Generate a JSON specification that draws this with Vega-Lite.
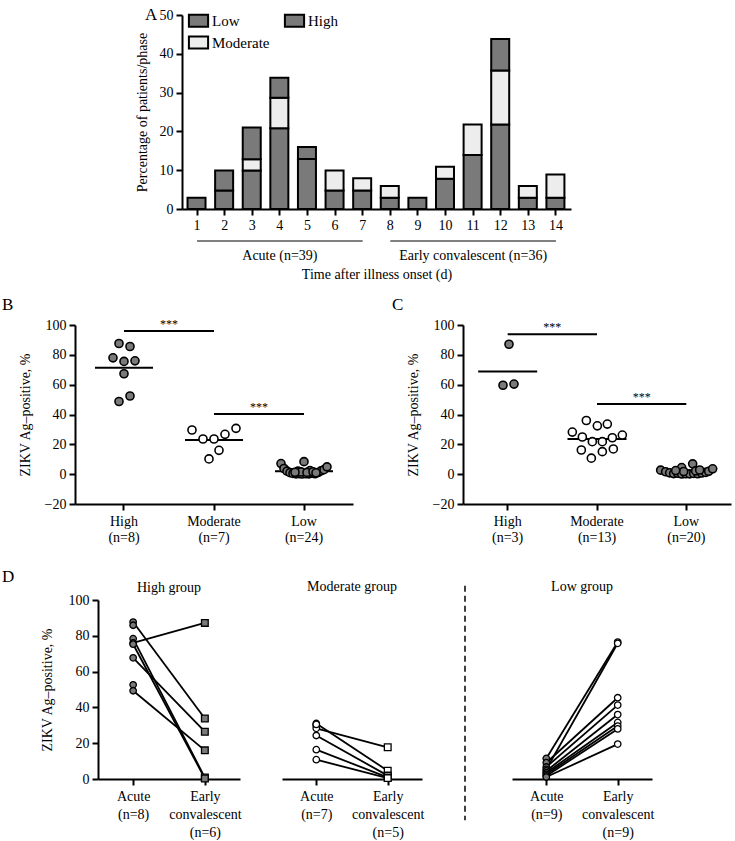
{
  "$schema": "https://vega.github.io/schema/vega-lite/v6.json",
  "background": "white",
  "padding": {"left": 2, "top": 6, "right": 2, "bottom": 2},
  "config": {
    "font": "Liberation Serif",
    "view": {"stroke": null},
    "axis": {"domainColor": "black", "domainWidth": 2, "tickColor": "black", "tickWidth": 2, "tickSize": 6, "labelColor": "black", "labelFontSize": 14, "titleFontSize": 14, "titleColor": "black", "titleFontWeight": "normal", "labelFont": "Liberation Serif", "titleFont": "Liberation Serif", "grid": false, "labelPadding": 3, "labelOverlap": false},
    "title": {"font": "Liberation Serif", "fontSize": 14, "fontWeight": "normal", "color": "black"},
    "text": {"font": "Liberation Serif"}
  },
  "datasets": {
    "days": [
      {"day": 1, "level": "Low", "ord": 1, "pct": 2.9},
      {"day": 2, "level": "Low", "ord": 1, "pct": 4.8}, {"day": 2, "level": "High", "ord": 3, "pct": 5.1},
      {"day": 3, "level": "Low", "ord": 1, "pct": 9.9}, {"day": 3, "level": "Moderate", "ord": 2, "pct": 2.9}, {"day": 3, "level": "High", "ord": 3, "pct": 8.2},
      {"day": 4, "level": "Low", "ord": 1, "pct": 20.8}, {"day": 4, "level": "Moderate", "ord": 2, "pct": 7.9}, {"day": 4, "level": "High", "ord": 3, "pct": 5.1},
      {"day": 5, "level": "Low", "ord": 1, "pct": 12.9}, {"day": 5, "level": "High", "ord": 3, "pct": 3.1},
      {"day": 6, "level": "Low", "ord": 1, "pct": 4.8}, {"day": 6, "level": "Moderate", "ord": 2, "pct": 5.1},
      {"day": 7, "level": "Low", "ord": 1, "pct": 4.8}, {"day": 7, "level": "Moderate", "ord": 2, "pct": 3.1},
      {"day": 8, "level": "Low", "ord": 1, "pct": 2.9}, {"day": 8, "level": "Moderate", "ord": 2, "pct": 3.0},
      {"day": 9, "level": "Low", "ord": 1, "pct": 2.9},
      {"day": 10, "level": "Low", "ord": 1, "pct": 7.8}, {"day": 10, "level": "Moderate", "ord": 2, "pct": 3.1},
      {"day": 11, "level": "Low", "ord": 1, "pct": 13.9}, {"day": 11, "level": "Moderate", "ord": 2, "pct": 7.9},
      {"day": 12, "level": "Low", "ord": 1, "pct": 21.8}, {"day": 12, "level": "Moderate", "ord": 2, "pct": 13.9}, {"day": 12, "level": "High", "ord": 3, "pct": 8.1},
      {"day": 13, "level": "Low", "ord": 1, "pct": 2.9}, {"day": 13, "level": "Moderate", "ord": 2, "pct": 3.0},
      {"day": 14, "level": "Low", "ord": 1, "pct": 2.9}, {"day": 14, "level": "Moderate", "ord": 2, "pct": 6.0}
    ],
    "phases": [
      {"phase": "Acute (n=39)", "from": 1, "to": 7},
      {"phase": "Early convalescent (n=36)", "from": 8, "to": 14}
    ],
    "bPts": [
      {"grp": "High", "jit": -5, "val": 87.6}, {"grp": "High", "jit": 6, "val": 85.6}, {"grp": "High", "jit": -11, "val": 78}, {"grp": "High", "jit": 0, "val": 75.6},
      {"grp": "High", "jit": 11, "val": 76}, {"grp": "High", "jit": 0, "val": 67.3}, {"grp": "High", "jit": 6, "val": 52.4}, {"grp": "High", "jit": -5, "val": 48.7},
      {"grp": "Moderate", "jit": -22, "val": 29.6}, {"grp": "Moderate", "jit": -11, "val": 23.6}, {"grp": "Moderate", "jit": 0, "val": 23.6}, {"grp": "Moderate", "jit": 11, "val": 26.7},
      {"grp": "Moderate", "jit": 22, "val": 30.7}, {"grp": "Moderate", "jit": -5, "val": 10.2}, {"grp": "Moderate", "jit": 5, "val": 16},
      {"grp": "Low", "jit": -23, "val": 7.1}, {"grp": "Low", "jit": -20, "val": 3.8}, {"grp": "Low", "jit": -17, "val": 2.0}, {"grp": "Low", "jit": -14, "val": 1.0},
      {"grp": "Low", "jit": -11, "val": 0.5}, {"grp": "Low", "jit": -8, "val": 0.2}, {"grp": "Low", "jit": -5, "val": 0.4}, {"grp": "Low", "jit": -2, "val": 0.1},
      {"grp": "Low", "jit": 2, "val": 0.3}, {"grp": "Low", "jit": 5, "val": 0.2}, {"grp": "Low", "jit": 8, "val": 0.6}, {"grp": "Low", "jit": 11, "val": 0.3},
      {"grp": "Low", "jit": 14, "val": 1.1}, {"grp": "Low", "jit": 17, "val": 2.2}, {"grp": "Low", "jit": 20, "val": 3.0}, {"grp": "Low", "jit": 23, "val": 4.9},
      {"grp": "Low", "jit": 0, "val": 8.4}, {"grp": "Low", "jit": -6, "val": 2.0}, {"grp": "Low", "jit": 6, "val": 2.4}, {"grp": "Low", "jit": -3, "val": 1.5},
      {"grp": "Low", "jit": 3, "val": 1.2}, {"grp": "Low", "jit": -9, "val": 1.3}, {"grp": "Low", "jit": 9, "val": 1.6}, {"grp": "Low", "jit": 12, "val": 0.9}
    ],
    "bMed": [{"grp": "High", "med": 71.3}, {"grp": "Moderate", "med": 22.9}, {"grp": "Low", "med": 2.0}],
    "bSig": [{"from": "High", "to": "Moderate", "val": 96, "label": "***"}, {"from": "Moderate", "to": "Low", "val": 40.4, "label": "***"}],
    "cPts": [
      {"grp": "High", "jit": 1, "val": 87.1}, {"grp": "High", "jit": -5, "val": 59.6}, {"grp": "High", "jit": 6, "val": 60.4},
      {"grp": "Moderate", "jit": -11, "val": 36}, {"grp": "Moderate", "jit": 0, "val": 32.4}, {"grp": "Moderate", "jit": 10, "val": 33.6}, {"grp": "Moderate", "jit": -25, "val": 28.2},
      {"grp": "Moderate", "jit": -15, "val": 24.9}, {"grp": "Moderate", "jit": -5, "val": 21.8}, {"grp": "Moderate", "jit": 5, "val": 21.8}, {"grp": "Moderate", "jit": 15, "val": 24.4},
      {"grp": "Moderate", "jit": 25, "val": 26.2}, {"grp": "Moderate", "jit": -16, "val": 16.2}, {"grp": "Moderate", "jit": 5, "val": 15.1}, {"grp": "Moderate", "jit": 16, "val": 16.9},
      {"grp": "Moderate", "jit": -6, "val": 10.7},
      {"grp": "Low", "jit": -26, "val": 2.7}, {"grp": "Low", "jit": -21, "val": 1.6}, {"grp": "Low", "jit": -17, "val": 0.9}, {"grp": "Low", "jit": -13, "val": 0.4},
      {"grp": "Low", "jit": -9, "val": 0.6}, {"grp": "Low", "jit": -5, "val": 4.4}, {"grp": "Low", "jit": -5, "val": 0.1}, {"grp": "Low", "jit": -1, "val": 0.3},
      {"grp": "Low", "jit": 3, "val": 0.2}, {"grp": "Low", "jit": 6, "val": 6.9}, {"grp": "Low", "jit": 7, "val": 0.5}, {"grp": "Low", "jit": 11, "val": 0.3},
      {"grp": "Low", "jit": 15, "val": 0.8}, {"grp": "Low", "jit": 19, "val": 1.2}, {"grp": "Low", "jit": 22, "val": 1.9}, {"grp": "Low", "jit": 26, "val": 3.6},
      {"grp": "Low", "jit": -3, "val": 1.8}, {"grp": "Low", "jit": 9, "val": 2.2}, {"grp": "Low", "jit": -11, "val": 2.4}, {"grp": "Low", "jit": 13, "val": 2.8}
    ],
    "cMed": [{"grp": "High", "med": 68.9}, {"grp": "Moderate", "med": 23.6}, {"grp": "Low", "med": 2.2}],
    "cSig": [{"from": "High", "to": "Moderate", "val": 93.8, "label": "***"}, {"from": "Moderate", "to": "Low", "val": 47.1, "label": "***"}],
    "dPts": [
      {"grp": "High", "pid": "h1", "phase": "Acute", "val": 87.7}, {"grp": "High", "pid": "h1", "phase": "Early convalescent", "val": 33.8},
      {"grp": "High", "pid": "h2", "phase": "Acute", "val": 85.9},
      {"grp": "High", "pid": "h3", "phase": "Acute", "val": 78.4}, {"grp": "High", "pid": "h3", "phase": "Early convalescent", "val": 0.8},
      {"grp": "High", "pid": "h4", "phase": "Acute", "val": 76.0}, {"grp": "High", "pid": "h4", "phase": "Early convalescent", "val": 87.2},
      {"grp": "High", "pid": "h5", "phase": "Acute", "val": 75.3}, {"grp": "High", "pid": "h5", "phase": "Early convalescent", "val": 0.3},
      {"grp": "High", "pid": "h6", "phase": "Acute", "val": 67.7}, {"grp": "High", "pid": "h6", "phase": "Early convalescent", "val": 26.4},
      {"grp": "High", "pid": "h7", "phase": "Acute", "val": 52.6},
      {"grp": "High", "pid": "h8", "phase": "Acute", "val": 49.3}, {"grp": "High", "pid": "h8", "phase": "Early convalescent", "val": 16.0},
      {"grp": "Moderate", "pid": "m1", "phase": "Acute", "val": 31.0}, {"grp": "Moderate", "pid": "m1", "phase": "Early convalescent", "val": 4.6},
      {"grp": "Moderate", "pid": "m2", "phase": "Acute", "val": 29.8},
      {"grp": "Moderate", "pid": "m3", "phase": "Acute", "val": 28.3}, {"grp": "Moderate", "pid": "m3", "phase": "Early convalescent", "val": 17.7},
      {"grp": "Moderate", "pid": "m4", "phase": "Acute", "val": 24.3}, {"grp": "Moderate", "pid": "m4", "phase": "Early convalescent", "val": 1.9},
      {"grp": "Moderate", "pid": "m5", "phase": "Acute", "val": 16.4}, {"grp": "Moderate", "pid": "m5", "phase": "Early convalescent", "val": 0.9},
      {"grp": "Moderate", "pid": "m6", "phase": "Acute", "val": 10.8}, {"grp": "Moderate", "pid": "m6", "phase": "Early convalescent", "val": 0.5},
      {"grp": "Moderate", "pid": "m7", "phase": "Acute", "val": 30.5},
      {"grp": "Low", "pid": "l1", "phase": "Acute", "val": 11.5}, {"grp": "Low", "pid": "l1", "phase": "Early convalescent", "val": 76.5},
      {"grp": "Low", "pid": "l2", "phase": "Acute", "val": 9.1}, {"grp": "Low", "pid": "l2", "phase": "Early convalescent", "val": 45.4},
      {"grp": "Low", "pid": "l3", "phase": "Acute", "val": 6.7}, {"grp": "Low", "pid": "l3", "phase": "Early convalescent", "val": 41.3},
      {"grp": "Low", "pid": "l4", "phase": "Acute", "val": 5.4}, {"grp": "Low", "pid": "l4", "phase": "Early convalescent", "val": 75.8},
      {"grp": "Low", "pid": "l5", "phase": "Acute", "val": 4.5}, {"grp": "Low", "pid": "l5", "phase": "Early convalescent", "val": 36.0},
      {"grp": "Low", "pid": "l6", "phase": "Acute", "val": 3.5}, {"grp": "Low", "pid": "l6", "phase": "Early convalescent", "val": 31.6},
      {"grp": "Low", "pid": "l7", "phase": "Acute", "val": 2.6}, {"grp": "Low", "pid": "l7", "phase": "Early convalescent", "val": 29.6},
      {"grp": "Low", "pid": "l8", "phase": "Acute", "val": 1.7}, {"grp": "Low", "pid": "l8", "phase": "Early convalescent", "val": 28.0},
      {"grp": "Low", "pid": "l9", "phase": "Acute", "val": 1.1}, {"grp": "Low", "pid": "l9", "phase": "Early convalescent", "val": 19.5}
    ]
  },
  "spacing": 14,
  "resolve": {"scale": {"color": "independent"}, "legend": {"color": "independent"}},
  "vconcat": [
    {
      "bounds": "flush",
      "spacing": 7,
      "resolve": {"scale": {"color": "independent"}, "legend": {"color": "independent"}},
      "hconcat": [
        {"width": 100, "height": 1, "data": {"values": [{"s": 0}]}, "mark": {"type": "point", "opacity": 0}},
        {
          "spacing": 8,
          "resolve": {"scale": {"color": "independent"}, "legend": {"color": "independent"}},
          "vconcat": [
            {
              "width": 389, "height": 194,
              "title": {"text": "A", "anchor": "start", "frame": "group", "dx": -37, "dy": 20, "fontSize": 17},
              "data": {"name": "days"},
              "mark": {"type": "bar", "stroke": "black", "strokeWidth": 2},
              "encoding": {
                "x": {"field": "day", "type": "ordinal", "scale": {"domain": [1,2,3,4,5,6,7,8,9,10,11,12,13,14], "paddingInner": 0.31, "paddingOuter": 0.2}, "axis": {"title": null, "labelAngle": 0}},
                "y": {"field": "pct", "type": "quantitative", "stack": "zero", "scale": {"domain": [0, 50]}, "axis": {"values": [0, 10, 20, 30, 40, 50], "tickCount": 12, "labelOverlap": false, "title": "Percentage of patients/phase", "titlePadding": 10}},
                "color": {"field": "level", "type": "nominal", "scale": {"domain": ["Low", "High", "Moderate"], "range": ["#7a7a7a", "#7a7a7a", "#ededed"]},
                  "legend": {"orient": "none", "legendX": 9, "legendY": -2, "direction": "horizontal", "columns": 2, "title": null, "symbolType": "M-1.6,-1L1.6,-1L1.6,1L-1.6,1Z", "symbolSize": 144, "symbolStrokeColor": "black", "symbolStrokeWidth": 2, "labelFontSize": 15, "labelFont": "Liberation Serif", "labelColor": "black", "labelOffset": 6, "columnPadding": 10, "rowPadding": 1, "padding": 0}},
                "order": {"field": "ord", "type": "quantitative"}
              }
            },
            {
              "width": 389, "height": 1,
              "data": {"name": "phases"},
              "mark": {"type": "rule", "color": "black", "strokeWidth": 1},
              "encoding": {
                "x": {"field": "from", "type": "ordinal", "scale": {"domain": [1,2,3,4,5,6,7,8,9,10,11,12,13,14], "paddingInner": 0.31, "paddingOuter": 0.2},
                  "axis": {"values": [4, 11], "labelExpr": "datum.value == 4 ? 'Acute (n=39)' : 'Early convalescent (n=36)'", "domain": false, "ticks": false, "labelPadding": 6, "labelAngle": 0, "title": "Time after illness onset (d)", "titlePadding": 5}},
                "x2": {"field": "to"},
                "y": {"datum": 1, "type": "quantitative", "scale": {"domain": [0, 1]}, "axis": null}
              }
            }
          ]
        }
      ]
    },
    {
      "spacing": 23,
      "vconcat": [
        {
          "bounds": "flush",
          "spacing": 110,
          "hconcat": [
            {
              "width": 278, "height": 179,
              "title": {"text": "B", "anchor": "start", "frame": "group", "dx": -73, "fontSize": 17, "offset": 4},
              "layer": [
                {"data": {"name": "bMed"}, "mark": {"type": "tick", "color": "black", "size": 58, "thickness": 2, "opacity": 1},
                  "encoding": {
                    "x": {"field": "grp", "type": "nominal", "scale": {"domain": ["High", "Moderate", "Low"], "paddingInner": 0, "paddingOuter": 0.0444},
                      "axis": {"title": null, "labelAngle": 0, "labelLineHeight": 16, "labelPadding": 4, "labelExpr": "datum.value == 'High' ? ['High', '(n=8)'] : datum.value == 'Moderate' ? ['Moderate', '(n=7)'] : ['Low', '(n=24)']"}},
                    "y": {"field": "med", "type": "quantitative", "scale": {"domain": [-20, 100]}, "axis": {"values": [-20, 0, 20, 40, 60, 80, 100], "tickCount": 12, "labelOverlap": false, "title": "ZIKV Ag–positive, %", "titlePadding": 12}}
                  }},
                {"data": {"name": "bPts"}, "transform": [{"filter": "datum.grp != 'Moderate'"}],
                  "mark": {"type": "circle", "size": 65, "fill": "#7a7a7a", "stroke": "black", "strokeWidth": 1.6, "opacity": 1},
                  "encoding": {"x": {"field": "grp", "type": "nominal"}, "xOffset": {"field": "jit", "type": "quantitative", "scale": {"domain": [-45, 45], "range": [0, 90]}}, "y": {"field": "val", "type": "quantitative"}}},
                {"data": {"name": "bPts"}, "transform": [{"filter": "datum.grp == 'Moderate'"}],
                  "mark": {"type": "circle", "size": 65, "fill": "white", "stroke": "black", "strokeWidth": 1.6, "opacity": 1},
                  "encoding": {"x": {"field": "grp", "type": "nominal"}, "xOffset": {"field": "jit", "type": "quantitative"}, "y": {"field": "val", "type": "quantitative"}}},
                {"data": {"name": "bSig"}, "mark": {"type": "rule", "color": "black", "strokeWidth": 2},
                  "encoding": {"x": {"field": "from", "type": "nominal"}, "x2": {"field": "to"}, "y": {"field": "val", "type": "quantitative"}}},
                {"data": {"name": "bSig"}, "mark": {"type": "text", "fontSize": 12, "baseline": "middle", "dy": -7, "color": "black"},
                  "encoding": {"x": {"field": "to", "type": "nominal", "bandPosition": 0}, "y": {"field": "val", "type": "quantitative"}, "text": {"field": "label"}}}
              ]
            },
            {
              "width": 268, "height": 179,
              "title": {"text": "C", "anchor": "start", "frame": "group", "dx": -71, "fontSize": 17, "offset": 4},
              "layer": [
                {"data": {"name": "cMed"}, "mark": {"type": "tick", "color": "black", "size": 59, "thickness": 2, "opacity": 1},
                  "encoding": {
                    "x": {"field": "grp", "type": "nominal", "scale": {"domain": ["High", "Moderate", "Low"], "paddingInner": 0, "paddingOuter": 0},
                      "axis": {"title": null, "labelAngle": 0, "labelLineHeight": 16, "labelPadding": 4, "labelExpr": "datum.value == 'High' ? ['High', '(n=3)'] : datum.value == 'Moderate' ? ['Moderate', '(n=13)'] : ['Low', '(n=20)']"}},
                    "y": {"field": "med", "type": "quantitative", "scale": {"domain": [-20, 100]}, "axis": {"values": [-20, 0, 20, 40, 60, 80, 100], "tickCount": 12, "labelOverlap": false, "title": "ZIKV Ag–positive, %", "titlePadding": 12}}
                  }},
                {"data": {"name": "cPts"}, "transform": [{"filter": "datum.grp != 'Moderate'"}],
                  "mark": {"type": "circle", "size": 65, "fill": "#7a7a7a", "stroke": "black", "strokeWidth": 1.6, "opacity": 1},
                  "encoding": {"x": {"field": "grp", "type": "nominal"}, "xOffset": {"field": "jit", "type": "quantitative", "scale": {"domain": [-45, 45], "range": [0, 90]}}, "y": {"field": "val", "type": "quantitative"}}},
                {"data": {"name": "cPts"}, "transform": [{"filter": "datum.grp == 'Moderate'"}],
                  "mark": {"type": "circle", "size": 65, "fill": "white", "stroke": "black", "strokeWidth": 1.6, "opacity": 1},
                  "encoding": {"x": {"field": "grp", "type": "nominal"}, "xOffset": {"field": "jit", "type": "quantitative"}, "y": {"field": "val", "type": "quantitative"}}},
                {"data": {"name": "cSig"}, "mark": {"type": "rule", "color": "black", "strokeWidth": 2},
                  "encoding": {"x": {"field": "from", "type": "nominal"}, "x2": {"field": "to"}, "y": {"field": "val", "type": "quantitative"}}},
                {"data": {"name": "cSig"}, "mark": {"type": "text", "fontSize": 12, "baseline": "middle", "dy": -7, "color": "black"},
                  "encoding": {"x": {"field": "to", "type": "nominal", "bandPosition": 0}, "y": {"field": "val", "type": "quantitative"}, "text": {"field": "label"}}}
              ]
            }
          ]
        },
        {
          "bounds": "flush",
          "spacing": 3,
          "hconcat": [
            {"width": 20, "height": 1, "title": {"text": "D", "anchor": "start", "frame": "group", "dx": -73, "fontSize": 17, "offset": 12},
              "data": {"values": [{"s": 0}]}, "mark": {"type": "point", "opacity": 0}},
            {
              "bounds": "flush",
              "spacing": 42,
              "hconcat": [
                {
                  "width": 142, "height": 179,
                  "title": {"text": "High group", "anchor": "middle", "frame": "group", "fontSize": 14, "offset": -2},
                  "data": {"name": "dPts"},
                  "transform": [{"filter": "datum.grp == 'High'"}],
                  "layer": [
                    {"mark": {"type": "line", "color": "black", "strokeWidth": 1.8},
                      "encoding": {
                        "x": {"field": "phase", "type": "nominal", "scale": {"type": "point", "domain": ["Acute", "Early convalescent"], "padding": 0.49},
                          "axis": {"title": null, "labelAngle": 0, "labelLineHeight": 18, "labelPadding": 4, "labelExpr": "datum.value == 'Acute' ? ['Acute', '(n=8)'] : ['Early', 'convalescent', '(n=6)']"}},
                        "y": {"field": "val", "type": "quantitative", "scale": {"domain": [0, 100]}, "axis": {"values": [0, 20, 40, 60, 80, 100], "tickCount": 12, "labelOverlap": false, "title": "ZIKV Ag–positive, %", "titlePadding": 14}},
                        "detail": {"field": "pid", "type": "nominal"}
                      }},
                    {"transform": [{"filter": "datum.phase == 'Acute'"}], "mark": {"type": "circle", "size": 42, "fill": "#7a7a7a", "stroke": "black", "strokeWidth": 1.3, "opacity": 1},
                      "encoding": {"x": {"field": "phase", "type": "nominal"}, "y": {"field": "val", "type": "quantitative"}}},
                    {"transform": [{"filter": "datum.phase != 'Acute'"}], "mark": {"type": "square", "size": 45, "fill": "#7a7a7a", "stroke": "black", "strokeWidth": 1.3, "opacity": 1},
                      "encoding": {"x": {"field": "phase", "type": "nominal"}, "y": {"field": "val", "type": "quantitative"}}}
                  ]
                },
                {
                  "width": 140, "height": 179,
                  "title": {"text": "Moderate group", "anchor": "middle", "frame": "group", "fontSize": 14, "offset": 6},
                  "data": {"name": "dPts"},
                  "transform": [{"filter": "datum.grp == 'Moderate'"}],
                  "layer": [
                    {"mark": {"type": "line", "color": "black", "strokeWidth": 1.8},
                      "encoding": {
                        "x": {"field": "phase", "type": "nominal", "scale": {"type": "point", "domain": ["Acute", "Early convalescent"], "padding": 0.48},
                          "axis": {"title": null, "labelAngle": 0, "labelLineHeight": 18, "labelPadding": 4, "labelExpr": "datum.value == 'Acute' ? ['Acute', '(n=7)'] : ['Early', 'convalescent', '(n=5)']"}},
                        "y": {"field": "val", "type": "quantitative", "scale": {"domain": [0, 100]}, "axis": null},
                        "detail": {"field": "pid", "type": "nominal"}
                      }},
                    {"transform": [{"filter": "datum.phase == 'Acute'"}], "mark": {"type": "circle", "size": 42, "fill": "white", "stroke": "black", "strokeWidth": 1.3, "opacity": 1},
                      "encoding": {"x": {"field": "phase", "type": "nominal"}, "y": {"field": "val", "type": "quantitative"}}},
                    {"transform": [{"filter": "datum.phase != 'Acute'"}], "mark": {"type": "square", "size": 45, "fill": "white", "stroke": "black", "strokeWidth": 1.3, "opacity": 1},
                      "encoding": {"x": {"field": "phase", "type": "nominal"}, "y": {"field": "val", "type": "quantitative"}}}
                  ]
                },
                {
                  "width": 6, "height": 179,
                  "data": {"values": [{"s": 0}]},
                  "mark": {"type": "rule", "color": "black", "strokeWidth": 1.5, "strokeDash": [6, 4]},
                  "encoding": {
                    "x": {"datum": 1, "type": "quantitative", "scale": {"domain": [0, 6]}, "axis": null},
                    "y": {"datum": 108, "type": "quantitative", "scale": {"domain": [0, 100]}, "axis": null},
                    "y2": {"datum": -23}
                  }
                },
                {
                  "width": 140, "height": 179,
                  "title": {"text": "Low group", "anchor": "middle", "frame": "group", "fontSize": 14, "offset": 6},
                  "data": {"name": "dPts"},
                  "transform": [{"filter": "datum.grp == 'Low'"}],
                  "layer": [
                    {"mark": {"type": "line", "color": "black", "strokeWidth": 1.8},
                      "encoding": {
                        "x": {"field": "phase", "type": "nominal", "scale": {"type": "point", "domain": ["Acute", "Early convalescent"], "padding": 0.48},
                          "axis": {"title": null, "labelAngle": 0, "labelLineHeight": 18, "labelPadding": 4, "labelExpr": "datum.value == 'Acute' ? ['Acute', '(n=9)'] : ['Early', 'convalescent', '(n=9)']"}},
                        "y": {"field": "val", "type": "quantitative", "scale": {"domain": [0, 100]}, "axis": null},
                        "detail": {"field": "pid", "type": "nominal"}
                      }},
                    {"transform": [{"filter": "datum.phase == 'Acute'"}], "mark": {"type": "circle", "size": 42, "fill": "#7a7a7a", "stroke": "black", "strokeWidth": 1.3, "opacity": 1},
                      "encoding": {"x": {"field": "phase", "type": "nominal"}, "y": {"field": "val", "type": "quantitative"}}},
                    {"transform": [{"filter": "datum.phase != 'Acute'"}], "mark": {"type": "circle", "size": 42, "fill": "white", "stroke": "black", "strokeWidth": 1.3, "opacity": 1},
                      "encoding": {"x": {"field": "phase", "type": "nominal"}, "y": {"field": "val", "type": "quantitative"}}}
                  ]
                }
              ]
            }
          ]
        }
      ]
    }
  ]
}
